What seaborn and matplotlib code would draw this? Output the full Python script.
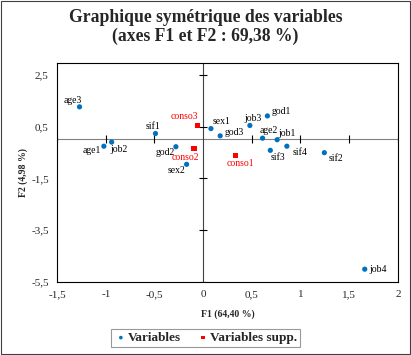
import matplotlib
matplotlib.use('Agg')
import matplotlib.pyplot as plt
import pandas as pd
import seaborn as sns
from matplotlib.patches import Rectangle

sns.set_style('white')
plt.rcParams['font.family'] = ['Liberation Serif', 'DejaVu Serif']

# active variables
var_labels = ['age1', 'age2', 'age3', 'job1', 'job2', 'job3', 'job4', 'sex1', 'sex2',
              'god1', 'god2', 'god3', 'sif1', 'sif2', 'sif3', 'sif4']
var_f1 = [-1.02, 0.61, -1.27, 0.76, -0.94, 0.48, 1.66, 0.08, -0.17,
          0.66, -0.28, 0.175, -0.49, 1.245, 0.69, 0.86]
var_f2 = [-0.26, 0.05, 1.26, -0.01, -0.10, 0.54, -5.01, 0.42, -0.96,
          0.91, -0.28, 0.14, 0.23, -0.51, -0.42, -0.26]

# supplementary variables
sup_labels = ['conso1', 'conso2', 'conso3']
sup_f1 = [0.33, -0.095, -0.055]
sup_f2 = [-0.63, -0.36, 0.54]

xticks = [-1.5, -1, -0.5, 0, 0.5, 1, 1.5, 2]
yticks = [2.5, 0.5, -1.5, -3.5, -5.5]

# label offsets in points
offs = {'age1': (-2, 0, 'right', 'top'), 'age2': (-2, 2, 'left', 'bottom'),
        'age3': (2, 1, 'right', 'bottom'), 'job1': (1, 1, 'left', 'bottom'),
        'job2': (-1, -2, 'left', 'top'), 'job3': (2, 2, 'center', 'bottom'),
        'job4': (3, 0, 'left', 'center'), 'sex1': (1, 2, 'left', 'bottom'),
        'sex2': (-1, -1, 'right', 'top'), 'god1': (3, 0, 'left', 'bottom'),
        'god2': (-1, -1, 'right', 'top'), 'god3': (3, -1, 'left', 'bottom'),
        'sif1': (-2, 2, 'center', 'bottom'), 'sif2': (3, -1, 'left', 'top'),
        'sif3': (0, -2, 'left', 'top'), 'sif4': (4, -1, 'left', 'top'),
        'conso1': (4, -2, 'center', 'top'), 'conso2': (-6, -3, 'center', 'top'),
        'conso3': (0, 3, 'right', 'bottom')}

blue = '#0070C0'
red = '#FF0000'

df_var = pd.DataFrame({'F1': var_f1, 'F2': var_f2, 'lab': var_labels})
df_sup = pd.DataFrame({'F1': sup_f1, 'F2': sup_f2, 'lab': sup_labels})

fig = plt.figure(figsize=(4.11, 3.55), dpi=100)
ax = fig.add_axes([0.139, 0.206, 0.829, 0.617])

ax.axhline(0, color='#808080', lw=0.8, zorder=1)
ax.axvline(0, color='#404040', lw=0.8, zorder=1)
ax.plot([t for t in xticks if t != 0], [0] * (len(xticks) - 1), ls='none', marker='|',
        ms=6, mew=0.8, color='black', zorder=1)
ax.plot([0] * len(yticks), yticks, ls='none', marker='_', ms=6, mew=0.8, color='black', zorder=1)

sns.scatterplot(data=df_var, x='F1', y='F2', ax=ax, color=blue, marker='o', s=14,
                edgecolor='none', zorder=3, label='Variables')
sns.scatterplot(data=df_sup, x='F1', y='F2', ax=ax, color=red, marker='s', s=14,
                edgecolor='none', zorder=3, label='Variables supp.')

for df, col in [(df_var, 'black'), (df_sup, red)]:
    for _, r in df.iterrows():
        dx, dy, ha, va = offs[r['lab']]
        ax.annotate(r['lab'], (r['F1'], r['F2']), xytext=(dx, dy), textcoords='offset points',
                    ha=ha, va=va, fontsize=7, color=col)

ax.set_xlim(-1.5, 2)
ax.set_ylim(-5.5, 2.96)
ax.set_xticks(xticks)
ax.set_yticks(yticks)
fmt = lambda v: ('%g' % v).replace('.', ',')
ax.set_xticklabels([fmt(t) for t in xticks], fontsize=8)
ax.set_yticklabels([fmt(t) for t in yticks], fontsize=8)
ax.tick_params(length=0, pad=6)
for s in ax.spines.values():
    s.set_color('black')
    s.set_linewidth(0.8)

ax.set_xlabel('F1 (64,40 %)', fontsize=7, fontweight='bold', labelpad=7)
ax.set_ylabel('F2 (4,98 %)', fontsize=7, fontweight='bold', labelpad=2)

fig.suptitle('Graphique symétrique des variables\n(axes F1 et F2 : 69,38 %)',
             fontsize=12.7, fontweight='bold', y=0.975, linespacing=1.15)

ax.legend().remove()
h, l = ax.get_legend_handles_labels()
leg = fig.legend(h, l, loc='center', bbox_to_anchor=(0.5, 0.048), ncol=2, frameon=True,
                 fancybox=False, shadow=False, edgecolor='#808080',
                 prop={'size': 9.5, 'weight': 'bold'},
                 handletextpad=0.0, columnspacing=1.2, borderpad=0.25, markerscale=0.7,
                 handlelength=1.0)
leg.get_frame().set_linewidth(0.8)

fig.patches.append(Rectangle((0.002, 0.003), 0.996, 0.994, transform=fig.transFigure,
                             fill=False, edgecolor='#404040', lw=0.8))

fig.savefig('out.png', dpi=100)
